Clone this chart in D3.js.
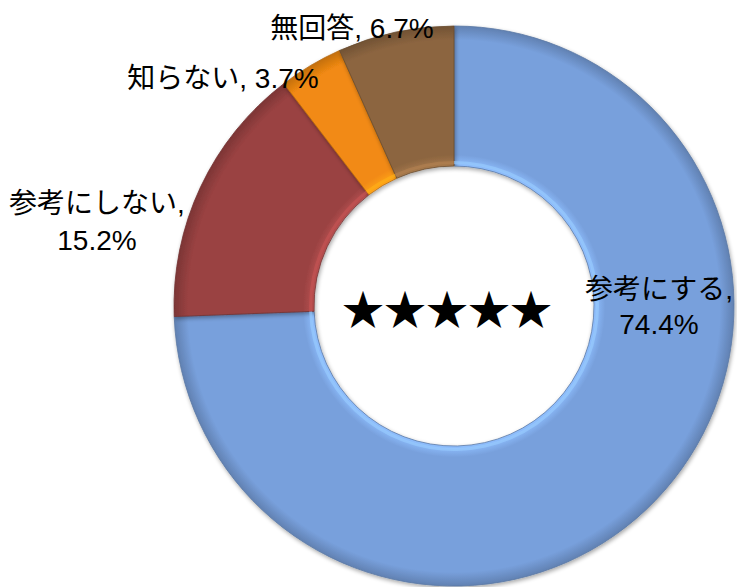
<!DOCTYPE html>
<html>
<head>
<meta charset="utf-8">
<script src="https://cdn.jsdelivr.net/npm/d3@7"></script>
<style>
  body { margin: 0; background: #fff; }
  text { font-family: "Liberation Sans", Arial, "Noto Sans CJK JP", sans-serif; fill: #000; }
</style>
</head>
<body>
<svg id="main" width="737" height="587"></svg>
<script>
// chart data
var categories = ["参考にする", "参考にしない", "知らない", "無回答"];
var values = [74.4, 15.2, 3.7, 6.7];
var colors = ["#78a0dc", "#9a4242", "#f28a12", "#8c6540"];
var centerText = "★★★★★";

var svg = d3.select("#main");
var cx = 454, cy = 306;
var outerR = 280, innerR = 140;

var defs = svg.append("defs");

// gradient per slice for a bevel-ish look
colors.forEach(function(c, i) {
  var grad = defs.append("radialGradient")
    .attr("id", "grad" + i)
    .attr("gradientUnits", "userSpaceOnUse")
    .attr("cx", 0).attr("cy", 0).attr("r", outerR);
  var base = d3.color(c);
  grad.append("stop").attr("offset", innerR / outerR).attr("stop-color", base.brighter(0.5));
  grad.append("stop").attr("offset", innerR / outerR + 0.04).attr("stop-color", c);
  grad.append("stop").attr("offset", 0.95).attr("stop-color", c);
  grad.append("stop").attr("offset", 1).attr("stop-color", base.darker(0.6));
});

var shadow = defs.append("filter").attr("id", "shadow")
  .attr("x", "-10%").attr("y", "-10%").attr("width", "120%").attr("height", "120%");
shadow.append("feGaussianBlur").attr("in", "SourceAlpha").attr("stdDeviation", 2);
shadow.append("feOffset").attr("dx", 1).attr("dy", 2).attr("result", "off");
shadow.append("feComponentTransfer").append("feFuncA").attr("type", "linear").attr("slope", 0.35);
var merge = shadow.append("feMerge");
merge.append("feMergeNode");
merge.append("feMergeNode").attr("in", "SourceGraphic");

var pie = d3.pie().sort(null).value(function(d) { return d; });
var arc = d3.arc().innerRadius(innerR).outerRadius(outerR);
var arcs = pie(values);

var g = svg.append("g").attr("transform", "translate(" + cx + "," + cy + ")");

g.selectAll("path.slice")
  .data(arcs)
  .enter()
  .append("path")
  .attr("class", "slice")
  .attr("d", arc)
  .attr("fill", function(d, i) { return "url(#grad" + i + ")"; })
  .attr("stroke", function(d, i) { return d3.color(colors[i]).darker(0.8); })
  .attr("stroke-width", 0.8)
  .attr("filter", "url(#shadow)");

// inner highlight edge
var edgeArc = d3.arc().innerRadius(innerR + 2).outerRadius(innerR + 5);
g.selectAll("path.edge")
  .data(arcs)
  .enter()
  .append("path")
  .attr("class", "edge")
  .attr("d", edgeArc)
  .attr("fill", function(d, i) { return d3.color(colors[i]).brighter(0.7); })
  .attr("opacity", 0.6);

// labels (position chosen by hand like the original), y = baselines
var labelPos = [
  { x: 659, y: [299, 334] },
  { x: 97, y: [213, 250] },
  { x: 223, y: [88] },
  { x: 352, y: [38] }
];

arcs.forEach(function(d, i) {
  var p = labelPos[i];
  var txt = svg.append("text")
    .attr("text-anchor", "middle")
    .attr("font-size", 28);
  var pct = d.data.toFixed(1) + "%";
  if (p.y.length === 2) {
    txt.append("tspan").attr("x", p.x).attr("y", p.y[0]).text(categories[i] + ",");
    txt.append("tspan").attr("x", p.x).attr("y", p.y[1]).text(pct);
  } else {
    txt.append("tspan").attr("x", p.x).attr("y", p.y[0]).text(categories[i] + ", " + pct);
  }
});

svg.append("text")
  .attr("x", 447)
  .attr("y", 325)
  .attr("text-anchor", "middle")
  .attr("font-size", 42)
  .style("font-family", "'Noto Sans CJK JP', 'DejaVu Sans', sans-serif")
  .text(centerText);
</script>
</body>
</html>
